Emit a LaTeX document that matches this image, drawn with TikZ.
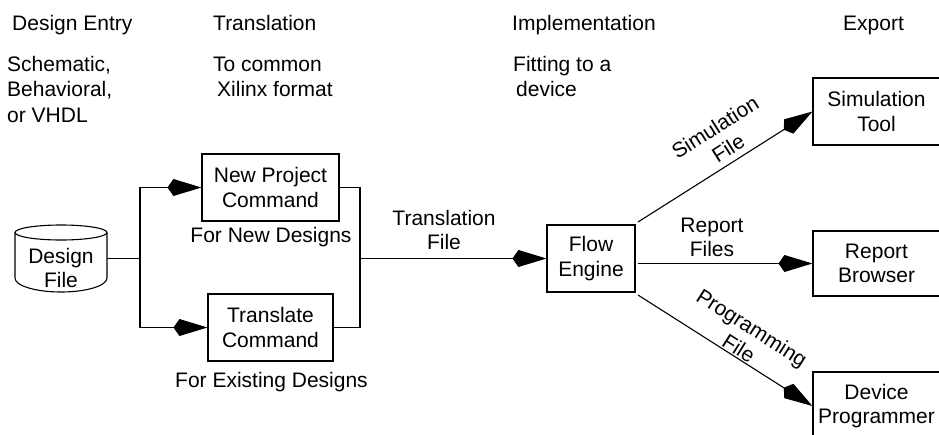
\documentclass[tikz,border=0pt]{standalone}
\usepackage{fontspec}
\setmainfont{Liberation Sans}
\usetikzlibrary{arrows.meta}

\tikzset{
  every node/.style={font=\fontsize{21}{24.5}\selectfont},
  line/.style={line width=1.1pt},
  arr/.style={line, -{Kite[length=34pt,width=17pt,inset=6pt]}},
  stepbox/.style={draw, line width=1.1pt, align=center, inner sep=0pt},
  head/.style={anchor=base west, inner sep=0pt},
  lbl/.style={align=center, inner sep=0pt},
}

\begin{document}
\begin{tikzpicture}[x=1pt, y=-1pt]
\useasboundingbox (0,0) rectangle (939,434);
\clip (0,0) rectangle (939,434);

% column headings
\node[head] (hde)  at (12,30)  {Design Entry};
\node[head] (hde1) at (7,71)   {Schematic,};
\node[head] (hde2) at (7,96.5) {Behavioral,};
\node[head] (hde3) at (7,122)  {or VHDL};

\node[head] (htr)  at (213,30)  {Translation};
\node[head] (htr1) at (213,71)  {To common};
\node[head] (htr2) at (217,96.5){Xilinx format};

\node[head] (him)  at (512,30)  {Implementation};
\node[head] (him1) at (513,71)  {Fitting to a};
\node[head] (him2) at (516,96.5){device};

\node[head] (hex)  at (843,30)  {Export};

% design file (drum)
\node[minimum width=92pt, minimum height=67pt, inner sep=0pt] (df) at (61,258.5) {};
\draw[line] (61,232.5) ellipse [x radius=46, y radius=7.5];
\draw[line] (15,232.5) -- (15,278)
  arc[start angle=180, end angle=0, x radius=46, y radius=14]
  -- (107,232.5);
\node[lbl, anchor=south] (dftext) at (61,288) {Design\\File};

% translation step
\node[stepbox, minimum width=137pt, minimum height=67pt] (np) at (270.5,187.5) {New Project\\Command};
\node[stepbox, minimum width=125pt, minimum height=67pt] (tc) at (270.5,327.5) {Translate\\Command};
\node[lbl, anchor=base] (npl) at (271,242) {For New Designs};
\node[lbl, anchor=base] (tcl) at (271.5,387) {For Existing Designs};

% implementation
\node[stepbox, minimum width=88pt, minimum height=67pt] (fe) at (591,258.5) {Flow\\Engine};

% export targets
\node[stepbox, minimum width=127pt, minimum height=67pt] (st) at (876.5,111.5) {Simulation\\Tool};
\node[stepbox, minimum width=127pt, minimum height=65pt] (rb) at (876.5,263.5) {Report\\Browser};
\node[stepbox, minimum width=127pt, minimum height=68pt] (dp) at (876.5,406) {Device\\Programmer};

% fan-out from the design file
\coordinate (split) at (140,258.5);
\draw[line] (df.east) -- (split);
\draw[arr] (split) |- (np.west);
\draw[arr] (split) |- (tc.west);

% merge into the flow engine
\coordinate (merge) at (360,258.5);
\draw[line] (np.east) -| (merge) |- (tc.east);
\draw[arr] (merge) -- (fe.west);
\node[lbl, anchor=south] (tfl) at (444,250) {Translation\\File};

% outputs of the flow engine
\coordinate (simout) at (638,222);
\coordinate (repout) at (638,263.5);
\coordinate (prgout) at (638,295);
\draw[arr] (simout) -- node[lbl, sloped, above=6pt, pos=0.56] (sfl) {Simulation\\File} (st.west);
\draw[arr] (repout) -- (rb.west);
\node[lbl, anchor=south] (rfl) at (712,257) {Report\\Files};
\draw[arr] (prgout) -- node[lbl, sloped, above=1pt, pos=0.55] (pfl) {Programming\\File} (dp.west);

\end{tikzpicture}
\end{document}
